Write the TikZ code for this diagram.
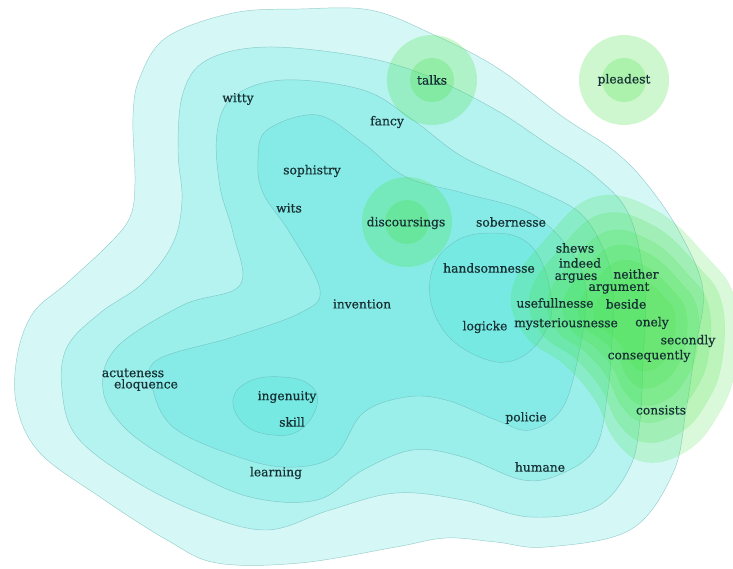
\documentclass[tikz,border=0pt]{standalone}
\usepackage{fontspec}
\setmainfont{DejaVu Serif}
\newfontfamily\wordfont{DejaVu Serif}[FakeBold=0.6]
\usepackage{tikz}
\newcommand{\ringouter}{45}
\newcommand{\ringinner}{22}
\definecolor{blobCyan}{RGB}{64,224,216}
\definecolor{blobGreen}{RGB}{70,225,70}
\definecolor{rimLine}{RGB}{100,175,175}
\definecolor{wordInk}{RGB}{22,48,52}
\tikzset{
  word/.style={text=wordInk,inner sep=0pt,font=\wordfont\fontsize{10.5}{12}\selectfont},
  cyanband/.style={fill=blobCyan,fill opacity=0.22,draw=rimLine,draw opacity=0.6,line width=0.4pt},
  greenlayer/.style={fill=blobGreen,fill opacity=0.2,draw=blobGreen,draw opacity=0.15,line width=0.3pt},
  halo/.style={fill=blobGreen,fill opacity=0.26,draw=none},
}

\begin{document}
\begin{tikzpicture}[x=0.03cm,y=-0.03cm]
  \useasboundingbox (0,0) rectangle (733,569);
  % density bands, outside in
  \draw[cyanband] plot[smooth cycle,tension=0.6] coordinates {
    (233,13) (300,9) (370,10) (430,33) (496,67) (563,117) (613,150) (646,183)
    (680,233) (703,290) (695,350) (686,410) (673,473) (630,530) (546,547)
    (496,542) (446,538) (396,547) (300,563) (217,563) (167,540) (100,497)
    (40,453) (17,407) (17,357) (33,313) (67,283) (110,243) (130,217) (135,183)
    (133,117) (140,77) (167,37)};
  \draw[cyanband] plot[smooth cycle,tension=0.6] coordinates {
    (207,60) (267,47) (363,57) (430,77) (496,110) (546,143) (596,177) (630,217)
    (645,290) (643,360) (640,420) (630,467) (596,507) (530,517) (463,500)
    (396,493) (330,510) (267,530) (200,513) (133,480) (77,437) (62,390) (67,347)
    (100,313) (143,283) (173,243) (182,200) (178,150) (183,93)};
  \draw[cyanband] plot[smooth cycle,tension=0.6] coordinates {
    (233,97) (283,80) (363,90) (413,120) (463,157) (530,187) (580,213) (605,253)
    (613,290) (612,340) (608,390) (596,447) (563,473) (523,480) (463,457)
    (413,450) (363,470) (317,500) (250,497) (183,467) (127,430) (103,390)
    (117,347) (183,305) (240,285) (233,233) (220,187) (217,133)};
  \draw[cyanband] plot[smooth cycle,tension=0.6] coordinates {
    (267,130) (317,115) (363,143) (406,177) (463,193) (530,213) (570,250)
    (586,290) (580,347) (563,407) (530,430) (496,420) (446,400) (406,397)
    (363,413) (333,457) (283,467) (227,453) (173,427) (153,390) (157,360)
    (233,337) (300,313) (320,290) (290,233) (263,193) (258,160)};
  \draw[cyanband] plot[smooth cycle,tension=0.7] coordinates {
    (233,400) (250,381) (283,377) (310,385) (317,405) (300,430) (273,435) (245,425)};
  \draw[cyanband] plot[smooth cycle,tension=0.7] coordinates {
    (490,233) (530,245) (550,290) (546,330) (515,360) (475,355) (440,325)
    (430,280) (450,245)};
  % green cluster
  \foreach \s in {1,0.86,0.72,0.6,0.48,0.36}{
    \begin{scope}[shift={(640,320)},scale=\s,shift={(-640,-320)}]
      \draw[greenlayer] plot[smooth cycle,tension=0.7] coordinates {
        (545,240) (595,197) (655,210) (705,255) (735,300) (735,370) (715,420)
        (685,452) (645,462) (615,440) (595,400) (565,365) (525,335) (512,290)};
    \end{scope}
  }
  % halos
  \foreach \cx/\cy in {432/80,624/80,407/222}{
    \fill[halo] (\cx,\cy) circle[radius=\ringouter];
    \fill[halo] (\cx,\cy) circle[radius=\ringinner];
  }
  % words
  \node[word] (talks) at (432,80) {talks};
  \node[word] (pleadest) at (624,80) {pleadest};
  \node[word] (witty) at (238,99) {witty};
  \node[word] (fancy) at (387,122) {fancy};
  \node[word] (sophistry) at (312,171) {sophistry};
  \node[word] (wits) at (289,208) {wits};
  \node[word] (discoursings) at (406,223) {discoursings};
  \node[word] (sobernesse) at (511,222) {sobernesse};
  \node[word] (shews) at (575,248) {shews};
  \node[word] (indeed) at (580,263) {indeed};
  \node[word] (argues) at (576,278) {argues};
  \node[word] (neither) at (636,274) {neither};
  \node[word] (argument) at (619,288) {argument};
  \node[word] (handsomnesse) at (489,268) {handsomnesse};
  \node[word] (usefullnesse) at (555,303) {usefullnesse};
  \node[word] (beside) at (626,304) {beside};
  \node[word] (invention) at (362,304) {invention};
  \node[word] (logicke) at (485,327) {logicke};
  \node[word] (mysteriousnesse) at (566,324) {mysteriousnesse};
  \node[word] (onely) at (652,323) {onely};
  \node[word] (secondly) at (688,341) {secondly};
  \node[word] (consequently) at (649,356) {consequently};
  \node[word] (acuteness) at (133,373) {acuteness};
  \node[word] (eloquence) at (146,385) {eloquence};
  \node[word] (ingenuity) at (287,397) {ingenuity};
  \node[word] (skill) at (292,422) {skill};
  \node[word] (consists) at (661,410) {consists};
  \node[word] (policie) at (526,418) {policie};
  \node[word] (humane) at (540,467) {humane};
  \node[word] (learning) at (276,473) {learning};
\end{tikzpicture}
\end{document}
